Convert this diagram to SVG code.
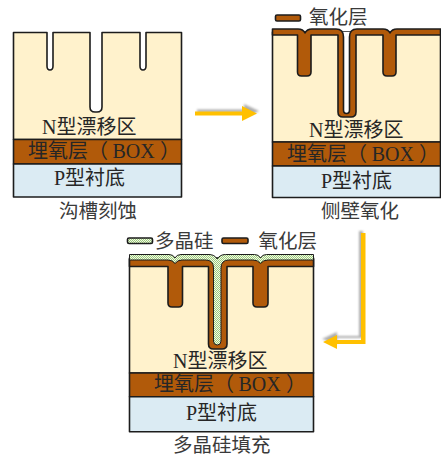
<svg xmlns="http://www.w3.org/2000/svg" width="441" height="461" viewBox="0 0 441 461">
<style>
.s{stroke:#1c1c1c;stroke-width:1.6;stroke-linejoin:round}
.c{fill:#fff2cc}.b{fill:#b15a0a}.l{fill:#dbebf3}.p{fill:url(#dots);stroke-width:1}
.t{font-family:"Liberation Serif","Noto Sans CJK SC",serif;font-size:20px;fill:#262626}
.cap{fill:#3a3a3a;font-size:19.5px}
.arr{fill:#ffc000}.sh{fill:#777;opacity:.6;filter:url(#bl)}
</style>
<defs>
<pattern id="dots" width="2" height="2" patternUnits="userSpaceOnUse"><rect width="2" height="2" fill="#f2f8ea"/><rect width="1" height="1" fill="#9ccb78"/><rect x="1" y="1" width="1" height="1" fill="#9ccb78"/></pattern>
<filter id="bl" x="-20%" y="-20%" width="140%" height="140%"><feGaussianBlur stdDeviation="1"/></filter>
</defs>
<rect width="441" height="461" fill="#fff"/>
<g id="connectors">
<path class="sh" d="M197 109.500H244V104L259 111L244 118V112.500H197Z"/>
<path class="arr" d="M195 111.500H242V106L257 113.500L242 121V115.500H195Z"/>
<path class="sh" d="M360 232H364V339H338V345L323 340L338 333V337H360Z" transform="translate(-1,-1)"/>
<path class="arr" d="M361 233H365.500V344H337V349L323 342L337 335V340H361Z"/>
</g>
<g id="panel-etch">
<path class="s c" d="M13.500 32.500H47V66Q47 70 50 70Q53 70 53 66V32.500H90V107Q90 112 95 112H97Q102 112 102 107V32.500H140V66Q140 70 143 70Q146 70 146 66V32.500H181.500V139.500H13.500Z"/>
<rect class="s b" x="13.500" y="139.500" width="168" height="24.500"/>
<rect class="s l" x="13.500" y="164" width="168" height="33"/>
<text class="t" x="42" y="134">N型漂移区</text>
<text class="t" x="28" y="158">埋氧层（<tspan x="112.500">BOX</tspan><tspan x="160">）</tspan></text>
<text class="t" x="54" y="185">P型衬底</text>
<text class="t cap" x="59" y="218">沟槽刻蚀</text>
</g>
<g id="panel-oxide">
<rect class="s c" x="272.500" y="32" width="168" height="110"/>
<rect x="343" y="32" width="7" height="83" fill="#fff"/>
<path class="s b" d="M272.500 29H298Q303 29 305 33Q307 29 312 29H336Q343.500 29 343.500 37V110Q343.500 113.500 346.500 113.500Q349.500 113.500 349.500 110V37Q349.500 29 357 29H383Q388 29 390 33Q392 29 397 29H440.500V35H396V72Q396 76 392 76H387Q383 76 383 72V35H356V112Q356 117 351 117H343Q338 117 338 112V35H311V72Q311 76 307 76H301.500Q297.500 76 297.500 72V35H272.500Z"/>
<rect class="s b" x="272.500" y="142" width="168" height="24"/>
<rect class="s l" x="272.500" y="166" width="168" height="31.500"/>
<text class="t" x="309" y="137">N型漂移区</text>
<text class="t" x="287" y="161">埋氧层（<tspan x="371.700">BOX</tspan><tspan x="419">）</tspan></text>
<text class="t" x="321" y="188">P型衬底</text>
<text class="t cap" x="321" y="218">侧壁氧化</text>
</g>
<g id="legend-oxide">
<rect class="s b" x="275.500" y="15" width="25" height="6" rx="1.500"/>
<text class="t cap" x="309" y="24">氧化层</text>
</g>
<g id="panel-poly">
<rect class="s c" x="129.500" y="259" width="184" height="114"/>
<path class="s b" d="M129.500 258H313.500V266.500H268V303Q268 307 264 307H257Q253 307 253 303V266.500H227V344Q227 349 222 349H213.500Q208.500 349 208.500 344V266.500H182.500V303Q182.500 307 178.500 307H172Q168 307 168 303V266.500H129.500Z"/>
<path class="s p" d="M129.500 254.500H169Q173.500 254.500 175 258Q176.500 254.500 181 254.500H209Q214.500 254.500 217.200 259Q220 254.500 225.500 254.500H254.500Q259 254.500 260.500 258Q262 254.500 266.500 254.500H313.500V260H268Q263 260 260.500 263.500Q258 260 253 260H229Q221 260 221 268V341Q221 345 217.200 345Q213.500 345 213.500 341V268Q213.500 260 205.500 260H182Q177.500 260 175 263.500Q172.500 260 168 260H129.500Z"/>
<rect class="s b" x="129.500" y="373" width="184" height="23.700"/>
<rect class="s l" x="129.500" y="396.700" width="184" height="35"/>
<text class="t" x="173" y="368">N型漂移区</text>
<text class="t" x="154" y="391">埋氧层（<tspan x="238.500">BOX</tspan><tspan x="286">）</tspan></text>
<text class="t" x="186" y="420">P型衬底</text>
<text class="t cap" x="173" y="452">多晶硅填充</text>
</g>
<g id="legend-poly">
<rect class="s p" x="127.500" y="238" width="25" height="5.500" rx="1.500" style="stroke-width:1.600"/>
<text class="t cap" x="155" y="248">多晶硅</text>
<rect class="s b" x="222" y="238" width="26" height="5.500" rx="1.500"/>
<text class="t cap" x="258.500" y="248">氧化层</text>
</g>
</svg>
